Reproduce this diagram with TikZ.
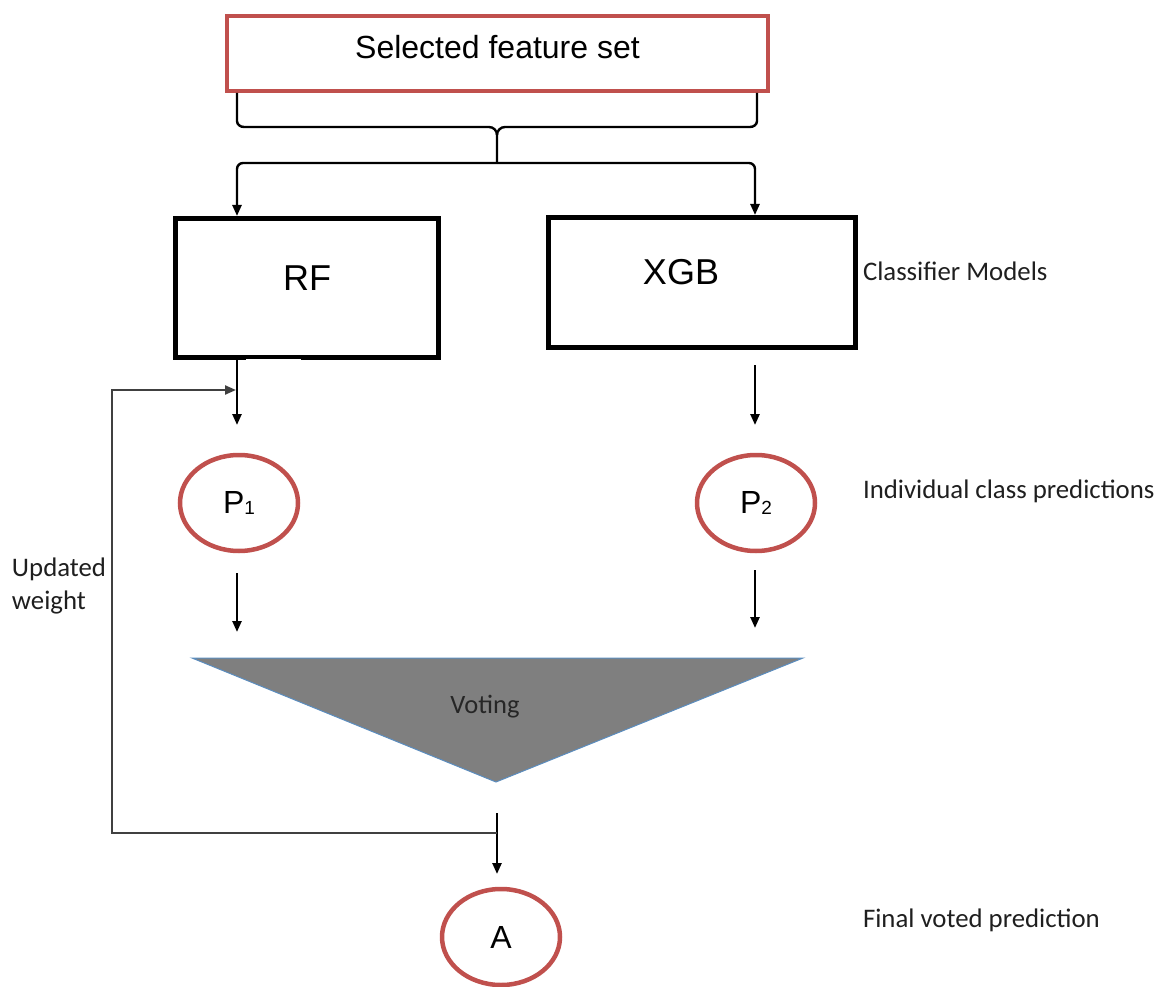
\documentclass[tikz,border=0pt]{standalone}
\usepackage{fontspec}
\setmainfont{Liberation Sans}
\newfontfamily\calib{Carlito}
\usetikzlibrary{arrows.meta,shapes.geometric,calc}
\definecolor{boxred}{HTML}{C0504D}
\definecolor{votegray}{HTML}{7F7F7F}
\definecolor{voteedge}{HTML}{5B8DBF}
\definecolor{labelc}{HTML}{1F1F1F}
\begin{document}
\begin{tikzpicture}[x=1pt,y=-1pt,
  every node/.style={outer sep=0pt},
  redbox/.style={draw=boxred,line width=4.5pt,minimum width=541pt,minimum height=75pt,inner sep=0pt},
  modelbox/.style={draw=black,line width=5.5pt,inner sep=0pt,font=\fontsize{36}{36}\selectfont},
  predell/.style={ellipse,draw=boxred,line width=4.5pt,minimum width=118pt,minimum height=96pt,inner sep=0pt,font=\fontsize{32}{32}\selectfont},
  arr/.style={line width=2.4pt,-{Triangle[length=11pt,width=9pt]}},
  fbline/.style={draw=black!75,line width=2.2pt,-{Triangle[length=11pt,width=9pt]}},
  side/.style={font=\calib\fontsize{26.8}{33}\selectfont,text=labelc,inner sep=0pt},
  bracel/.style={line width=2.4pt},
]
\useasboundingbox (0,0) rectangle (1162,987);

% top box
\node[redbox,text depth=13pt,font=\fontsize{32}{32}\selectfont] (feat) at (497.5,53.5) {Selected feature set};

% classifier boxes
\node[modelbox,minimum width=263pt,minimum height=139pt,text depth=20pt] (rf) at (307,288) {RF};
\node[modelbox,minimum width=307pt,minimum height=130pt,text depth=21pt] (xgb) at (702,282.5) {XGB\hspace*{42pt}};
\fill[white] (246,359) rectangle (301,361.5);

% predictions
\node[predell] (p1) at (239,503) {P\raisebox{-1pt}{\fontsize{19}{19}\selectfont 1}};
\node[predell] (p2) at (756,503) {P\raisebox{-1pt}{\fontsize{19}{19}\selectfont 2}};
\node[predell] (A) at (501,937) {A};

% brace under top box
\coordinate (split) at (497,163);
\draw[bracel] ($(feat.south west)+(10,2)$) -- (237,121) to[out=-90,in=180] (244,127) -- (489,127) to[out=0,in=90] (497,135) -- (split);
\draw[bracel] ($(feat.south east)+(-11,2)$) -- (757,121) to[out=-90,in=0] (750,127) -- (505,127) to[out=180,in=90] (497,135);

% arrows to classifiers
\draw[arr,rounded corners=6pt] (split) -| ($(rf.north west)+(61.5,-2.5)$);
\draw[arr,rounded corners=6pt] (split) -| ($(xgb.north east)+(-100.5,-2.5)$);

% arrows to predictions
\draw[arr] ($(rf.south west)+(61.5,2.5)$) -- ($(p1.north)+(-2,-30)$);
\draw[arr] ($(xgb.south)+(53,17.5)$) -- ($(p2.north)+(-1,-30)$);

% voting triangle
\coordinate (vtl) at (192,658);
\coordinate (vtr) at (803,658);
\coordinate (vapex) at (496,782);
\filldraw[fill=votegray,draw=voteedge,line width=1pt] (vtl) -- (vtr) -- (vapex) -- cycle;
\node[font=\calib\fontsize{26.5}{26.5}\selectfont,text=black!85,anchor=base,inner sep=0pt] (vt) at (485,713) {Voting};

\coordinate (in1) at (237,632);
\coordinate (in2) at (755,628);
\draw[arr] ($(p1.south)+(-2,22)$) -- (in1);
\draw[arr] ($(p2.south)+(-1,19)$) -- (in2);

% to final prediction
\coordinate (jn) at (497,833);
\draw[arr] ($(vapex)+(1,31)$) -- ($(A.north)+(-4,-15)$);

% feedback
\coordinate (fbin) at (236,390);
\draw[fbline] (jn) -- (112,833) -- (112,390) -- (fbin);

% side labels
\node[side,anchor=base west] (lcm) at (863,280) {Classifier Models};
\node[side,anchor=base west] (lip) at (863,498) {Individual class predictions};
\node[side,anchor=base west] (lfv) at (863,927) {Final voted prediction};
\node[side,anchor=north west,align=left] (luw) at (12,558) {Updated\\weight};
\end{tikzpicture}
\end{document}
